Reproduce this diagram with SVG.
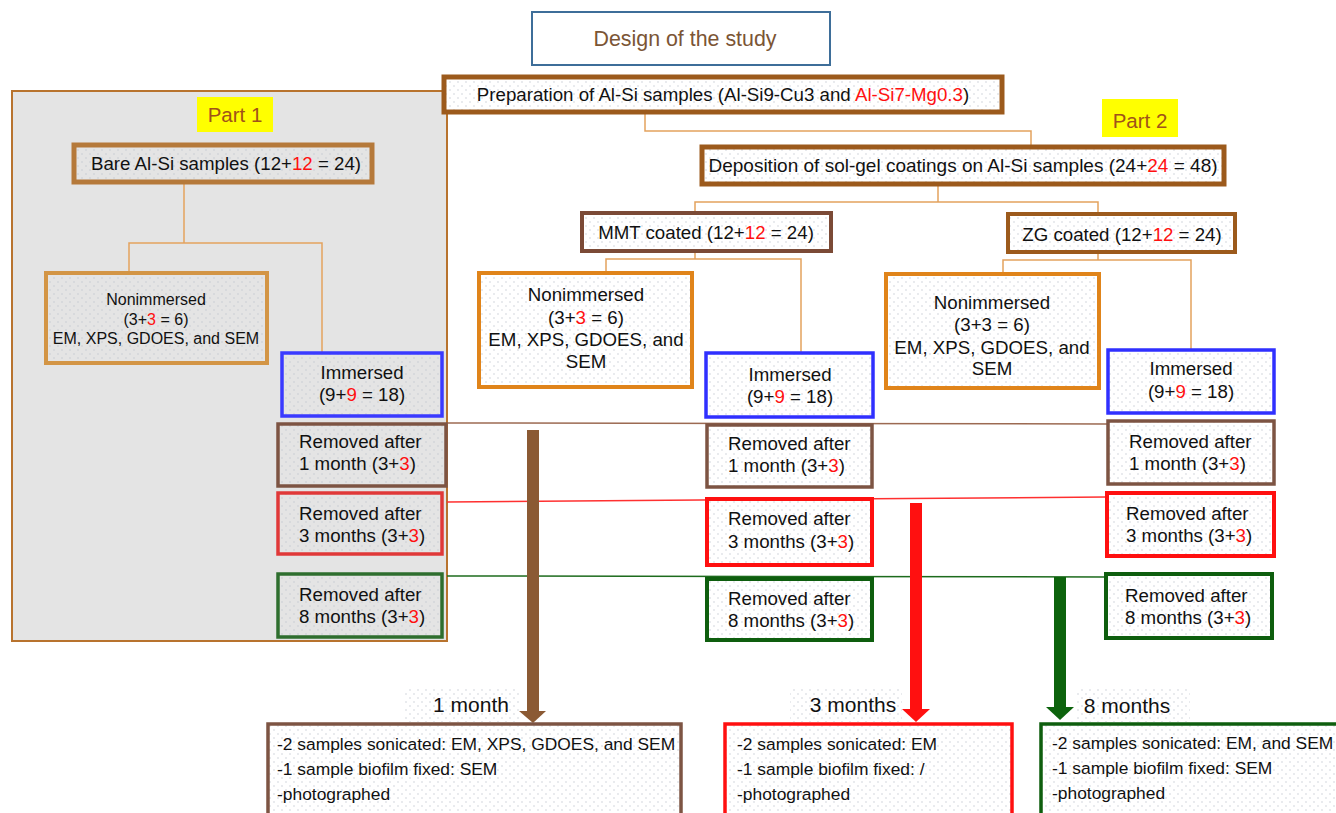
<svg xmlns="http://www.w3.org/2000/svg" width="1336" height="813" viewBox="0 0 1336 813">
<defs>
<pattern id="dots" width="8" height="8" patternUnits="userSpaceOnUse">
<rect width="8" height="8" fill="#ffffff"/>
<circle cx="2" cy="2" r="0.7" fill="#c4c8d2"/>
<circle cx="6" cy="6" r="0.7" fill="#c4c8d2"/>
</pattern>
<pattern id="dotsg" width="8" height="8" patternUnits="userSpaceOnUse">
<rect width="8" height="8" fill="#e4e4e4"/>
<circle cx="2" cy="2" r="0.7" fill="#c2c6d0"/>
<circle cx="6" cy="6" r="0.7" fill="#c2c6d0"/>
</pattern>
</defs>
<style>
text{font-family:"Liberation Sans",Arial,sans-serif;fill:#111}
.r{fill:#ff1010}
.c{text-anchor:middle}
.box{fill:url(#dots)}
.boxg{fill:url(#dotsg)}
.conn{fill:none;stroke:#e3a25e;stroke-width:1.5}
.t17{font-size:18.7px}
.t16{font-size:16px}
.t15{font-size:17.4px}
.lbl{font-size:21px}
</style>
<rect width="1336" height="813" fill="#ffffff"/>
<g id="part1-bg">
<rect x="12" y="91" width="435" height="550" fill="#e4e4e4" stroke="#b8732e" stroke-width="2"/>
</g>
<g id="title">
<rect x="532" y="12" width="298" height="53" fill="#ffffff" stroke="#3e6e99" stroke-width="2"/>
<text x="685" y="46" class="c" style="font-size:21.4px;fill:#7b5535">Design of the study</text>
</g>
<g id="connectors">
<path class="conn" d="M645,112 V131 H1031 V145"/>
<path class="conn" d="M184,183 V243 M129,271 V243 H322 V352"/>
<path class="conn" d="M938,185 V202 M695,212 V202 H1098 V213"/>
<path class="conn" d="M695,252 V259 M606,271 V259 H801 V352"/>
<path class="conn" d="M1098,253 V260 M1003,273 V260 H1191 V349"/>
<line x1="447" y1="423" x2="1107" y2="424" stroke="#9c6a52" stroke-width="1.5"/>
<line x1="447" y1="502" x2="1106" y2="497" stroke="#ff3030" stroke-width="1.5"/>
<line x1="447" y1="576" x2="1105" y2="577" stroke="#1d6b1d" stroke-width="1.5"/>
<g id="arrow-1month">
<rect x="527" y="430" width="12" height="282" fill="#8b5a34"/>
<polygon points="519,711 546,711 533,723" fill="#8b5a34"/>
</g>
<g id="arrow-3months">
<rect x="910" y="503" width="12" height="207" fill="#ff1010"/>
<polygon points="902,709 930,709 916,722" fill="#ff1010"/>
</g>
<g id="arrow-8months">
<rect x="1054" y="577" width="12" height="131" fill="#0d630d"/>
<polygon points="1046,707 1074,707 1060,720" fill="#0d630d"/>
</g>
</g>
<g id="prep">
<rect x="444" y="77" width="558" height="35" class="box" stroke="#9c5a1c" stroke-width="5"/>
<text x="723" y="101" class="c t17">Preparation of Al-Si samples (Al-Si9-Cu3 and <tspan class="r">Al-Si7-Mg0.3</tspan>)</text>
</g>
<g id="part1-label">
<rect x="197" y="97" width="76" height="35" fill="#ffff00"/>
<text x="235" y="122" class="c" style="font-size:20.5px;fill:#a0521a">Part 1</text>
</g>
<g id="part2-label">
<rect x="1102" y="99" width="76" height="38" fill="#ffff00"/>
<text x="1140" y="128" class="c" style="font-size:20.5px;fill:#a0521a">Part 2</text>
</g>
<g id="bare">
<rect x="74" y="145" width="298" height="37" class="boxg" stroke="#b5793a" stroke-width="5"/>
<text x="226" y="170" class="c t17">Bare Al-Si samples (12+<tspan class="r">12</tspan> = 24)</text>
</g>
<g id="p1-nonimmersed">
<rect x="46" y="273" width="221" height="90" class="boxg" stroke="#d39545" stroke-width="4"/>
<text x="156" y="305" class="c t16">Nonimmersed</text>
<text x="156" y="325" class="c t16">(3+<tspan class="r">3</tspan> = 6)</text>
<text x="156" y="344" class="c t16">EM, XPS, GDOES, and SEM</text>
</g>
<g id="p1-immersed">
<rect x="282" y="353" width="160" height="63" class="boxg" stroke="#3a3aff" stroke-width="3.5"/>
<text x="362" y="379" class="c t17">Immersed</text>
<text x="362" y="401" class="c t17">(9+<tspan class="r">9</tspan> = 18)</text>
</g>
<g id="p1-removed-1">
<rect x="278" y="424" width="168" height="62" class="boxg" stroke="#7d5443" stroke-width="3.5"/>
<text x="299" y="448" class="t17">Removed after</text>
<text x="299" y="470" class="t17">1 month (3+<tspan class="r">3</tspan>)</text>
</g>
<g id="p1-removed-3">
<rect x="278" y="493" width="164" height="61" class="boxg" stroke="#e03838" stroke-width="3.5"/>
<text x="299" y="520" class="t17">Removed after</text>
<text x="299" y="542" class="t17">3 months (3+<tspan class="r">3</tspan>)</text>
</g>
<g id="p1-removed-8">
<rect x="278" y="574" width="164" height="63" class="boxg" stroke="#2e6e2e" stroke-width="3.5"/>
<text x="299" y="601" class="t17">Removed after</text>
<text x="299" y="623" class="t17">8 months (3+<tspan class="r">3</tspan>)</text>
</g>
<g id="deposition">
<rect x="702" y="147" width="522" height="37" class="box" stroke="#9c5a1c" stroke-width="5"/>
<text x="963" y="172" class="c" style="font-size:19px">Deposition of sol-gel coatings on Al-Si samples (24+<tspan class="r">24</tspan> = 48)</text>
</g>
<g id="mmt">
<rect x="582" y="213" width="249" height="38" class="box" stroke="#7b4a36" stroke-width="4"/>
<text x="706" y="239" class="c t17">MMT coated (12+<tspan class="r">12</tspan> = 24)</text>
</g>
<g id="zg">
<rect x="1008" y="214" width="227" height="38" class="box" stroke="#9c5a1c" stroke-width="4"/>
<text x="1122" y="241" class="c t17">ZG coated (12+<tspan class="r">12</tspan> = 24)</text>
</g>
<g id="mmt-nonimmersed">
<rect x="479" y="273" width="213" height="114" class="box" stroke="#e0841a" stroke-width="4"/>
<text x="586" y="301" class="c t17">Nonimmersed</text>
<text x="586" y="324" class="c t17">(3+<tspan class="r">3</tspan> = 6)</text>
<text x="586" y="346" class="c t17">EM, XPS, GDOES, and</text>
<text x="586" y="368" class="c t17">SEM</text>
</g>
<g id="mmt-immersed">
<rect x="706" y="353" width="167" height="64" class="box" stroke="#3030ff" stroke-width="3.5"/>
<text x="790" y="381" class="c t17">Immersed</text>
<text x="790" y="403" class="c t17">(9+<tspan class="r">9</tspan> = 18)</text>
</g>
<g id="zg-nonimmersed">
<rect x="886" y="274" width="213" height="114" class="box" stroke="#e0841a" stroke-width="4"/>
<text x="992" y="309" class="c t17">Nonimmersed</text>
<text x="992" y="331" class="c t17">(3+3 = 6)</text>
<text x="992" y="354" class="c t17">EM, XPS, GDOES, and</text>
<text x="992" y="375" class="c t17">SEM</text>
</g>
<g id="zg-immersed">
<rect x="1108" y="350" width="166" height="63" class="box" stroke="#3030ff" stroke-width="3.5"/>
<text x="1191" y="375" class="c t17">Immersed</text>
<text x="1191" y="398" class="c t17">(9+<tspan class="r">9</tspan> = 18)</text>
</g>
<g id="mmt-removed-1">
<rect x="707" y="425" width="165" height="62" class="box" stroke="#7d5443" stroke-width="3.5"/>
<text x="728" y="450" class="t17">Removed after</text>
<text x="728" y="472" class="t17">1 month (3+<tspan class="r">3</tspan>)</text>
</g>
<g id="mmt-removed-3">
<rect x="707" y="499" width="165" height="66" class="box" stroke="#ff1010" stroke-width="4"/>
<text x="728" y="525" class="t17">Removed after</text>
<text x="728" y="548" class="t17">3 months (3+<tspan class="r">3</tspan>)</text>
</g>
<g id="mmt-removed-8">
<rect x="707" y="579" width="165" height="61" class="box" stroke="#0e5e0e" stroke-width="4"/>
<text x="728" y="605" class="t17">Removed after</text>
<text x="728" y="627" class="t17">8 months (3+<tspan class="r">3</tspan>)</text>
</g>
<g id="zg-removed-1">
<rect x="1108" y="421" width="166" height="63" class="box" stroke="#7d5443" stroke-width="3.5"/>
<text x="1129" y="448" class="t17">Removed after</text>
<text x="1129" y="470" class="t17">1 month (3+<tspan class="r">3</tspan>)</text>
</g>
<g id="zg-removed-3">
<rect x="1107" y="493" width="167" height="63" class="box" stroke="#ff1010" stroke-width="4"/>
<text x="1126" y="520" class="t17">Removed after</text>
<text x="1126" y="542" class="t17">3 months (3+<tspan class="r">3</tspan>)</text>
</g>
<g id="zg-removed-8">
<rect x="1106" y="574" width="166" height="64" class="box" stroke="#0e5e0e" stroke-width="4"/>
<text x="1125" y="602" class="t17">Removed after</text>
<text x="1125" y="624" class="t17">8 months (3+<tspan class="r">3</tspan>)</text>
</g>
<g id="label-1month">
<rect x="405" y="688" width="114" height="34" fill="url(#dots)"/>
<text x="471" y="712" class="c lbl">1 month</text>
</g>
<g id="label-3months">
<rect x="790" y="688" width="112" height="34" fill="url(#dots)"/>
<text x="853" y="712" class="c lbl">3 months</text>
</g>
<g id="label-8months">
<rect x="1075" y="688" width="115" height="34" fill="url(#dots)"/>
<text x="1127" y="713" class="c lbl">8 months</text>
</g>
<g id="result-1month">
<rect x="268" y="724" width="413" height="95" class="box" stroke="#7d5443" stroke-width="3.5"/>
<text x="277" y="750" class="t15">-2 samples sonicated: EM, XPS, GDOES, and SEM</text>
<text x="277" y="775" class="t15">-1 sample biofilm fixed: SEM</text>
<text x="277" y="800" class="t15">-photographed</text>
</g>
<g id="result-3months">
<rect x="725" y="724" width="287" height="95" class="box" stroke="#ff1010" stroke-width="3.5"/>
<text x="737" y="750" class="t15">-2 samples sonicated: EM</text>
<text x="737" y="775" class="t15">-1 sample biofilm fixed: /</text>
<text x="737" y="800" class="t15">-photographed</text>
</g>
<g id="result-8months">
<rect x="1041" y="724" width="300" height="95" class="box" stroke="#0e5e0e" stroke-width="3.5"/>
<text x="1052" y="749" class="t15">-2 samples sonicated: EM, and SEM</text>
<text x="1052" y="774" class="t15">-1 sample biofilm fixed: SEM</text>
<text x="1052" y="799" class="t15">-photographed</text>
</g>
</svg>
